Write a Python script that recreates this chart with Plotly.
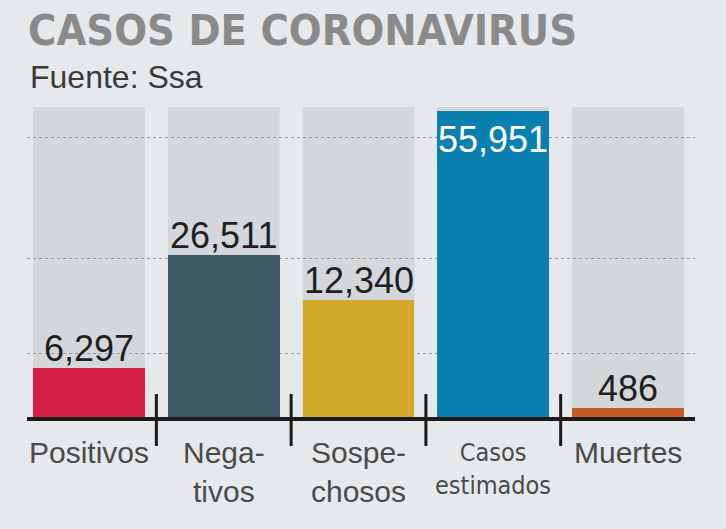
import plotly.graph_objects as go

# ---- data ----
categorias = ["Positivos", "Negativos", "Sospechosos", "Casos estimados", "Muertes"]
etiquetas = ["Positivos", "Nega-<br>tivos", "Sospe-<br>chosos", "Casos<br>estimados", "Muertes"]
valores = [6297, 26511, 12340, 55951, 486]
# the infographic does not draw bars proportionally; heights (display units)
alturas = [51, 164, 119, 308, 11]
colores = ["#d61f45", "#3d5965", "#d2a92c", "#0a80b1", "#c55a2b"]
niveles_guia = [66, 161, 282]
escala_max = 312

titulo = "CASOS DE CORONAVIRUS"
fuente = "Fuente: Ssa"

BG = "#e6e9ec"
COL_BG = "#d4d7d9"
COND = "DejaVu Sans Condensed, sans-serif"
SANS = "Liberation Sans, Arial, sans-serif"
ANCHO = 0.83

fig = go.Figure()
fig.add_trace(go.Bar(
    x=categorias, y=alturas, marker=dict(color=colores, line=dict(width=0)),
    width=ANCHO, hoverinfo="skip", showlegend=False,
))

shapes = []
# background full-height columns
for i, c in enumerate(categorias):
    shapes.append(dict(type="rect", layer="below", xref="x", yref="y domain",
                       x0=i - ANCHO / 2, x1=i + ANCHO / 2, y0=0, y1=1,
                       fillcolor=COL_BG, line=dict(width=0)))
# baseline
shapes.append(dict(type="line", layer="above", xref="paper", yref="paper",
                   x0=0, x1=1, y0=0, y1=0, line=dict(color="#1b1b1b", width=4)))
# separators between categories
for i in range(len(categorias) - 1):
    shapes.append(dict(type="line", layer="above", xref="x", yref="paper",
                       x0=i + 0.5, x1=i + 0.5, y0=-27 / escala_max, y1=25 / escala_max,
                       line=dict(color="#1b1b1b", width=3)))

annotations = [
    dict(text=f"<b>{titulo}</b>", xref="paper", yref="paper", x=0, y=1, xanchor="left",
         yanchor="bottom", xshift=-1, yshift=50, showarrow=False,
         font=dict(family=COND, size=43, color="#8a8a8a")),
    dict(text=fuente, xref="paper", yref="paper", x=0, y=1, xanchor="left",
         yanchor="bottom", xshift=1, yshift=10, showarrow=False,
         font=dict(family=SANS, size=32, color="#3a3a3a")),
]

for i, (c, v, h) in enumerate(zip(categorias, valores, alturas)):
    dentro = h > 250
    annotations.append(dict(
        text=f"{v:,}", x=c, y=h, xref="x", yref="y", showarrow=False,
        yanchor="top" if dentro else "bottom", yshift=-6 if dentro else -3,
        font=dict(family=SANS, size=36, color="white" if dentro else "#1f1f1f")))

for i, (c, lab) in enumerate(zip(categorias, etiquetas)):
    pequeno = c == "Casos estimados"
    annotations.append(dict(
        text=lab, x=c, y=0, xref="x", yref="paper", showarrow=False,
        yanchor="top", yshift=-17 if pequeno else -15,
        font=dict(family=COND if pequeno else SANS, size=25 if pequeno else 30,
                  color="#4a4a4a")))

fig.update_layout(
    width=726, height=529,
    margin=dict(l=27, r=31, t=107, b=110),
    paper_bgcolor=BG, plot_bgcolor="rgba(0,0,0,0)",
    bargap=0,
    xaxis=dict(type="category", range=[-0.46, 4.497], showgrid=False, showline=False,
               showticklabels=False, zeroline=False, ticks="", fixedrange=True),
    yaxis=dict(range=[0, escala_max], tickvals=niveles_guia, showgrid=True,
               gridcolor="#9a9a9a", gridwidth=1, griddash="3px,3px",
               showticklabels=False, zeroline=False, showline=False, ticks="",
               fixedrange=True),
    shapes=shapes, annotations=annotations,
)

fig.write_html("out.html")
